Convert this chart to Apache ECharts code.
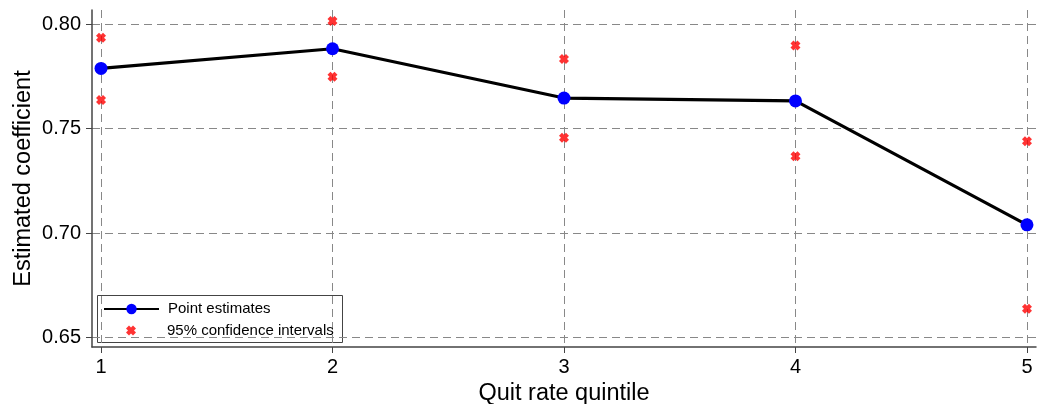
<!DOCTYPE html>
<html>
<head>
<meta charset="utf-8">
<script src="https://cdn.jsdelivr.net/npm/echarts@6/dist/echarts.min.js"></script>
<style>html,body{margin:0;padding:0;background:#fff}#c{width:1037px;height:404px}</style>
</head>
<body>
<div id="c"></div>
<script>
const quintiles = [1, 2, 3, 4, 5];
const pointEstimates = [0.7789, 0.7883, 0.7647, 0.7633, 0.7040];
const ciUpper = [0.7936, 0.8016, 0.7834, 0.7898, 0.7440];
const ciLower = [0.7637, 0.7749, 0.7457, 0.7368, 0.6638];
const yTicks = [0.65, 0.70, 0.75, 0.80];

const FONT = 'Liberation Sans, Arial, sans-serif';
const XPATH = 'path://M0,3 L3,0 L5,2 L7,0 L10,3 L8,5 L10,7 L7,10 L5,8 L3,10 L0,7 L2,5 Z';

const lineData = quintiles.map((q, i) => [q, pointEstimates[i]]);
const ciData = quintiles.map((q, i) => [q, ciUpper[i]]).concat(quintiles.map((q, i) => [q, ciLower[i]]));

const chart = echarts.init(document.getElementById('c'), null, {renderer: 'canvas'});
chart.setOption({
  animation: false,
  backgroundColor: '#fff',
  grid: {left: 92, right: 1, top: 10, bottom: 57, containLabel: false, outerBoundsMode: 'none'},
  xAxis: {
    type: 'value', min: 0.9611, max: 5.039,
    name: 'Quit rate quintile', nameLocation: 'middle', nameGap: 32,
    nameTextStyle: {fontFamily: FONT, fontSize: 23.5, color: '#000'},
    axisLine: {show: true, onZero: false, lineStyle: {color: '#444', width: 1.5}},
    axisTick: {show: true, customValues: quintiles, length: 6, lineStyle: {color: '#444', width: 1}},
    axisLabel: {customValues: quintiles, fontFamily: FONT, fontSize: 20, color: '#000', margin: 10},
    splitLine: {show: true, lineStyle: {color: '#888', type: [8, 5], width: 1}}
  },
  yAxis: {
    type: 'value', min: 0.6455, max: 0.80685,
    name: 'Estimated coefficient', nameLocation: 'middle', nameGap: 56, nameMoveOverlap: false,
    nameTextStyle: {fontFamily: FONT, fontSize: 23.5, color: '#000'},
    axisLine: {show: true, onZero: false, lineStyle: {color: '#444', width: 1.5}},
    axisTick: {show: true, customValues: yTicks, length: 6, lineStyle: {color: '#444', width: 1}},
    axisLabel: {customValues: yTicks, fontFamily: FONT, fontSize: 20, color: '#000', margin: 11,
      formatter: v => v.toFixed(2)},
    splitLine: {show: true, lineStyle: {color: '#888', type: [8, 5], width: 1}}
  },
  legend: [
    {
      data: ['Point estimates'], orient: 'vertical', left: 103, top: 301.5,
      itemWidth: 55, itemHeight: 13, padding: 0,
      textStyle: {fontFamily: FONT, fontSize: 15, color: '#000', padding: [0, 0, 0, 4]}
    },
    {
      data: [{name: '95% confidence intervals', icon: XPATH}], orient: 'vertical', left: 126, top: 323,
      itemWidth: 10, itemHeight: 10, padding: 0,
      textStyle: {fontFamily: FONT, fontSize: 15, color: '#000', padding: [0, 0, 0, 26]}
    }
  ],
  graphic: [{
    type: 'rect', left: 97, top: 295, z: 0,
    shape: {width: 245, height: 47},
    style: {fill: '#fff', stroke: '#444', lineWidth: 1}
  }],
  series: [
    {
      name: 'Point estimates', type: 'line', data: lineData,
      symbol: 'circle', symbolSize: 13, z: 3,
      lineStyle: {color: '#000', width: 3.2},
      itemStyle: {color: '#0000ff'},
      emphasis: {disabled: true}
    },
    {
      name: '95% confidence intervals', type: 'scatter', data: ciData,
      symbol: XPATH, symbolSize: 10, z: 2,
      itemStyle: {color: '#ff0000'},
      emphasis: {disabled: true}
    }
  ]
});
</script>
</body>
</html>
